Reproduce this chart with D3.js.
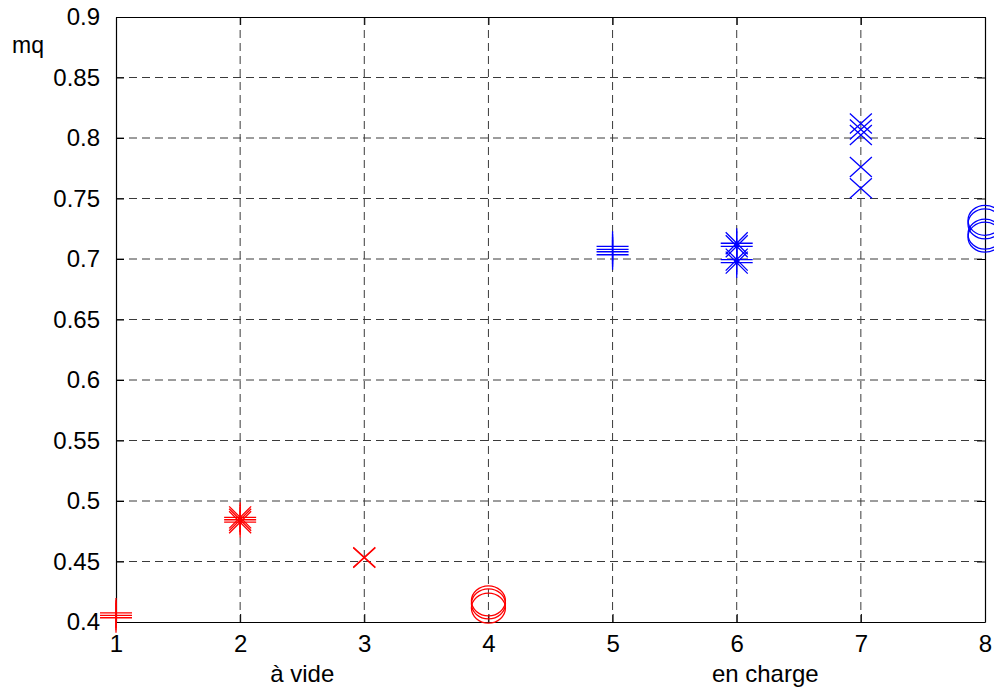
<!DOCTYPE html>
<html>
<head>
<meta charset="utf-8">
<script src="https://cdn.jsdelivr.net/npm/d3@7"></script>
<style>
  html, body { margin: 0; padding: 0; background: #fff; }
  svg { display: block; }
  text { font-family: "Liberation Sans", Arial, sans-serif; fill: #000; }
</style>
</head>
<body>
<svg id="chart" width="994" height="691"></svg>
<script>
// ---- data ----
const xTickValues = [1, 2, 3, 4, 5, 6, 7, 8];
const xTickLabels = ["1", "2", "3", "4", "5", "6", "7", "8"];
const yTickValues = [0.4, 0.45, 0.5, 0.55, 0.6, 0.65, 0.7, 0.75, 0.8, 0.85, 0.9];
const yTickLabels = ["0.4", "0.45", "0.5", "0.55", "0.6", "0.65", "0.7", "0.75", "0.8", "0.85", "0.9"];

// "à vide" (red) series
const videPlus   = [0.4035, 0.4055, 0.4075];        // at x = 1
const videStar   = [0.4825, 0.4845, 0.4865];        // at x = 2
const videCross  = [0.4530, 0.4535];                // at x = 3
const videCircle = [0.4115, 0.4150, 0.4175];        // at x = 4

// "en charge" (blue) series
const chargePlus   = [0.7035, 0.7060, 0.7080, 0.7105];          // at x = 5
const chargeStar   = [0.6970, 0.6995, 0.7105, 0.7130];          // at x = 6
const chargeCross  = [0.7585, 0.7760, 0.8025, 0.8070, 0.8120];  // at x = 7
const chargeCircle = [0.7180, 0.7205, 0.7290, 0.7320];          // at x = 8

const groupLabels = ["à vide", "en charge"];
const groupLabelX = [2.5, 6.23];
const yAxisTitle = "mq";

// ---- layout ----
const svg = d3.select("#chart");
const mLeft = 116, mRight = 985, mTop = 17, mBottom = 622;
const x = d3.scaleLinear().domain([1, 8]).range([mLeft, mRight]);
const y = d3.scaleLinear().domain([0.4, 0.9]).range([mBottom, mTop]);

// grid
const grid = svg.append("g");
grid.selectAll("line.vg").data(xTickValues.slice(1, -1)).enter().append("line")
  .attr("x1", d => x(d)).attr("x2", d => x(d)).attr("y1", mTop).attr("y2", mBottom)
  .attr("stroke", "#3a3a3a").attr("stroke-width", 1).attr("stroke-dasharray", "8,5");
grid.selectAll("line.hg").data(yTickValues.slice(1, -1)).enter().append("line")
  .attr("x1", mLeft).attr("x2", mRight).attr("y1", d => y(d)).attr("y2", d => y(d))
  .attr("stroke", "#3a3a3a").attr("stroke-width", 1).attr("stroke-dasharray", "8,5");

// axes with inward ticks
const fs = "24px";
const xAxisB = d3.axisBottom(x).tickValues(xTickValues).tickSizeInner(-8).tickSizeOuter(0)
  .tickPadding(13).tickFormat((d, i) => xTickLabels[i]);
const gxb = svg.append("g").attr("transform", `translate(0,${mBottom})`).call(xAxisB);
const xAxisT = d3.axisTop(x).tickValues(xTickValues).tickSizeInner(-8).tickSizeOuter(0).tickFormat("");
const gxt = svg.append("g").attr("transform", `translate(0,${mTop})`).call(xAxisT);
const yAxisL = d3.axisLeft(y).tickValues(yTickValues).tickSizeInner(-8).tickSizeOuter(0)
  .tickPadding(16).tickFormat((d, i) => yTickLabels[i]);
const gyl = svg.append("g").attr("transform", `translate(${mLeft},0)`).call(yAxisL);
const yAxisR = d3.axisRight(y).tickValues(yTickValues).tickSizeInner(-8).tickSizeOuter(0).tickFormat("");
const gyr = svg.append("g").attr("transform", `translate(${mRight},0)`).call(yAxisR);
[gxb, gxt, gyl, gyr].forEach(g => {
  g.select(".domain").attr("stroke", "#000").attr("stroke-width", 1.2);
  g.selectAll(".tick line").attr("stroke", "#000").attr("stroke-width", 1);
  g.selectAll("text").style("font-size", fs).style("font-family", "'Liberation Sans', Arial, sans-serif").attr("fill", "#000");
});

// axis titles / group labels
svg.append("text").attr("x", 12).attr("y", 53).style("font-size", "23px").text(yAxisTitle);
svg.selectAll("text.grp").data(groupLabels).enter().append("text")
  .attr("x", (d, i) => x(groupLabelX[i])).attr("y", 682)
  .attr("text-anchor", "middle").style("font-size", fs).text(d => d);

// ---- markers ----
const plusPath  = "M-16,0L16,0M0,-15L0,15";
const crossPath = "M-11,-10L11,10M-11,10L11,-10";
const starPath  = plusPath + "M-11,-11L11,11M-11,11L11,-11";
const circlePath = "M17,0A17,15 0 1,1 -17,0A17,15 0 1,1 17,0Z";

const series = [
  { xv: 1, vals: videPlus,   path: plusPath,   color: "#ff0000" },
  { xv: 2, vals: videStar,   path: starPath,   color: "#ff0000" },
  { xv: 3, vals: videCross,  path: crossPath,  color: "#ff0000" },
  { xv: 4, vals: videCircle, path: circlePath, color: "#ff0000" },
  { xv: 5, vals: chargePlus,   path: plusPath,   color: "#0000ff" },
  { xv: 6, vals: chargeStar,   path: starPath,   color: "#0000ff" },
  { xv: 7, vals: chargeCross,  path: crossPath,  color: "#0000ff" },
  { xv: 8, vals: chargeCircle, path: circlePath, color: "#0000ff" }
];
const mg = svg.append("g");
series.forEach(s => {
  mg.selectAll(null).data(s.vals).enter().append("path")
    .attr("d", s.path)
    .attr("transform", d => `translate(${x(s.xv)},${y(d)})`)
    .attr("fill", "none").attr("stroke", s.color).attr("stroke-width", 1.3);
});
</script>
</body>
</html>
